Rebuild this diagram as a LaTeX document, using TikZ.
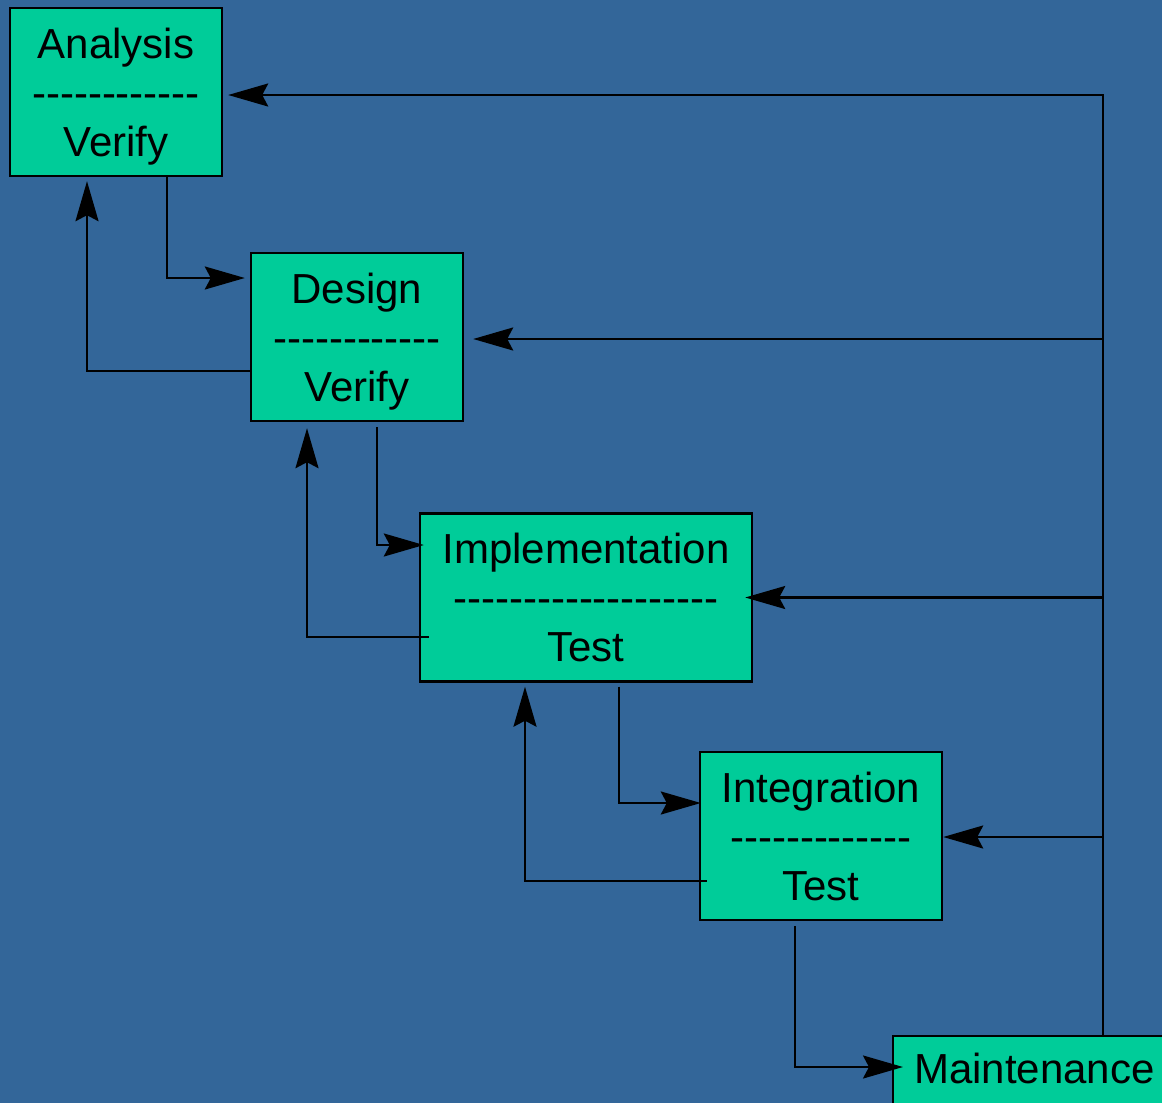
\documentclass[tikz,border=0pt]{standalone}
\usepackage{fontspec}
\setmainfont{Liberation Sans}
\usetikzlibrary{arrows.meta}

\definecolor{bgblue}{RGB}{51,102,153}
\definecolor{boxgreen}{RGB}{0,204,153}

% a row of separate hyphens (the kern keeps them from joining)
\newcommand{\dashrow}[1]{\foreach \k in {1,...,#1}{-\kern0pt}}

\begin{document}
\begin{tikzpicture}[x=1pt, y=-1pt, line width=2.4pt,
    phase/.style={draw=black, fill=boxgreen, inner sep=0pt, minimum height=168pt,
                  align=center, font=\fontsize{42}{49}\selectfont},
    flow/.style={-{Stealth[length=40pt,width=23pt,inset=6pt]}, shorten >=5pt}]

% Background and page size
\fill[bgblue] (0,0) rectangle (1162,1103);
\useasboundingbox (0,0) rectangle (1162,1103);

% Phases
\node[phase, minimum width=212pt] (ana) at (116,92)    {Analysis\\\dashrow{12}\\\smash{Verify}};
\node[phase, minimum width=212pt] (des) at (357,337)   {Design\\\dashrow{12}\\\smash{Verify}};
\node[phase, minimum width=332pt] (imp) at (586,597.5) {Implementation\\\dashrow{19}\\Test};
\node[phase, minimum width=242pt] (int) at (821,836)   {Integration\\\dashrow{13}\\Test};
\node[phase, minimum height=0pt, anchor=north west, inner xsep=21pt, inner ysep=10pt,
      text height=37pt, text depth=30pt] (mai) at (892,1035) {Maintenance};

% Feedback bus on the right
\coordinate (bus) at (1103,95);
\draw[flow] (mai.north -| bus) -- (bus) -- (bus -| ana.east);
\foreach \n/\s/\d in {des/9/2, imp/-8/0, int/0/1} {
    \draw[flow, shorten >=\s pt] ([yshift=-\d pt]\n.east -| bus) -- ([yshift=-\d pt]\n.east);
}

% Forward steps
\draw[flow] ([xshift=51pt]ana.south) |- ([yshift=59pt]des.west);
\draw[flow, shorten <=5pt, shorten >=-5pt] ([xshift=20pt]des.south) |- ([yshift=52.5pt]imp.west);
\draw[flow, shorten <=4pt, shorten >=-2pt] ([xshift=33pt]imp.south) |- ([yshift=33pt]int.west);
\draw[flow, shorten <=5pt, shorten >=-11pt] ([xshift=-26pt]int.south) |- ([yshift=-32pt]mai.north west);

% Steps back
\draw[flow, shorten >=4pt] ([yshift=-34pt]des.west) -| ([xshift=-29pt]ana.south);
\draw[flow, shorten >=6pt] ([xshift=10pt,yshift=-39.5pt]imp.west) -| ([xshift=-50pt]des.south);
\draw[flow, shorten >=4pt] ([xshift=8pt,yshift=-45pt]int.west) -| ([xshift=-61pt]imp.south);

\end{tikzpicture}
\end{document}
